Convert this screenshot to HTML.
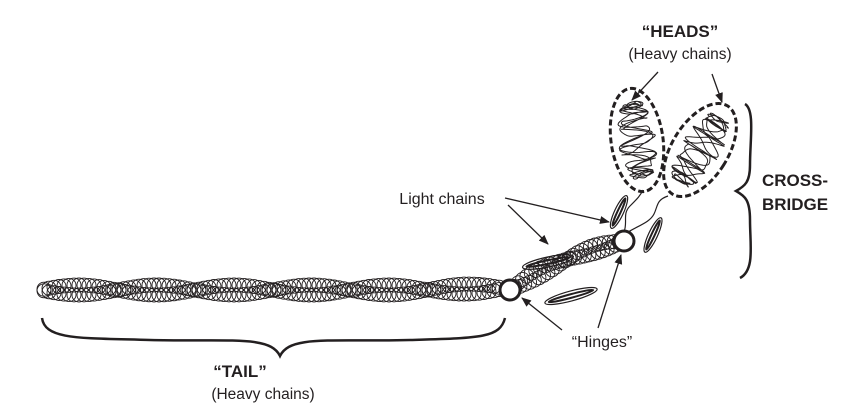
<!DOCTYPE html>
<html><head><meta charset="utf-8"><style>
html,body{margin:0;padding:0;background:#fff;width:852px;height:409px;overflow:hidden}
svg{display:block}
text{font-family:"Liberation Sans",Arial,sans-serif;fill:#231f20}
</style></head><body>
<svg id="s" width="852" height="409" viewBox="0 0 852 409" xmlns="http://www.w3.org/2000/svg">
<defs><marker id="a" markerWidth="10" markerHeight="8" refX="9" refY="4" orient="auto" markerUnits="userSpaceOnUse"><path d="M0,0 L10,4 L0,8 z" fill="#231f20"/></marker></defs>
<g id="coils" fill="none" stroke="#231f20" stroke-width="0.9"></g>
<g fill="none" stroke="#231f20" stroke-width="1.2">
<g transform="translate(548,262) rotate(-12)"><ellipse rx="26" ry="5"/><ellipse rx="22" ry="1.8" stroke-width="2"/></g>
<g transform="translate(571,296) rotate(-15)"><ellipse rx="27" ry="5"/><ellipse rx="23" ry="1.8" stroke-width="2"/></g>
<g transform="translate(619,212) rotate(-65)"><ellipse rx="18" ry="4.5"/><ellipse rx="15" ry="1.6" stroke-width="2"/></g>
<g transform="translate(653,235) rotate(-65)"><ellipse rx="19" ry="4.5"/><ellipse rx="16" ry="1.6" stroke-width="2"/></g>
<path d="M624,232 C628,222 622,214 630,206 C638,198 640,196 643,190"/>
<path d="M628,232 C640,225 650,222 654,214 C658,206 656,200 668,196"/>
</g>
<g id="heads" fill="none" stroke="#231f20" stroke-width="1"></g>
<g fill="none" stroke="#231f20" stroke-width="3" stroke-dasharray="6,3">
<ellipse cx="637" cy="140" rx="26" ry="52" transform="rotate(-8 637 140)"/>
<ellipse cx="700" cy="150" rx="28" ry="52" transform="rotate(32 700 150)"/>
</g>
<circle cx="510" cy="290" r="10" fill="#fff" stroke="#231f20" stroke-width="3"/>
<circle cx="624" cy="241" r="10" fill="#fff" stroke="#231f20" stroke-width="3"/>
<path d="M42,318 C45,340 80,338 150,340 C230,342 270,335 280,356 C290,335 330,342 410,340 C480,338 500,338 505,318" fill="none" stroke="#231f20" stroke-width="2.5"/>
<path d="M745,104 C755,110 750,140 750,165 C750,182 745,186 736,191 C745,196 750,200 750,220 C750,245 755,270 740,278" fill="none" stroke="#231f20" stroke-width="2.5"/>
<g stroke="#231f20" stroke-width="1.3" marker-end="url(#a)">
<line x1="658" y1="72" x2="632" y2="100"/>
<line x1="712" y1="74" x2="722" y2="102"/>
<line x1="505" y1="198" x2="609" y2="222"/>
<line x1="508" y1="205" x2="548" y2="244"/>
<line x1="562" y1="330" x2="522" y2="298"/>
<line x1="598" y1="328" x2="621" y2="255"/>
</g>
<text x="680" y="37" font-size="17" font-weight="bold" text-anchor="middle">“HEADS”</text>
<text x="680" y="59" font-size="15.5" text-anchor="middle">(Heavy chains)</text>
<text x="795" y="186" font-size="17" font-weight="bold" text-anchor="middle">CROSS-</text>
<text x="795" y="210" font-size="17" font-weight="bold" text-anchor="middle">BRIDGE</text>
<text x="442" y="204" font-size="16" text-anchor="middle">Light chains</text>
<text x="602" y="347" font-size="16" text-anchor="middle">“Hinges”</text>
<text x="240" y="377" font-size="17" font-weight="bold" text-anchor="middle">“TAIL”</text>
<text x="263" y="399" font-size="15.5" text-anchor="middle">(Heavy chains)</text>
</svg>
<script>
var h='';
function c(x,y,r){h+='<circle cx="'+x.toFixed(1)+'" cy="'+y.toFixed(1)+'" r="'+r+'"/>';}
for(var s=0;s<2;s++){for(var x=44;x<=503;x+=5){var ph=(x-40)/155*Math.PI*2+s*Math.PI;c(x,290+Math.sin(ph)*5-(x>420?(x-420)*0.02:0),7);}}
for(var s=0;s<2;s++){for(var t=0;t<=1;t+=0.04){var x=510+t*114,y=290-t*49-Math.sin(t*Math.PI)*6;var ph=t*Math.PI*2+s*Math.PI;c(x+0.39*Math.sin(ph)*4,y+0.92*Math.sin(ph)*4,7);}}
document.getElementById('coils').innerHTML=h;
function squig(cx,cy,rx,ry,ang,k){var a=ang*Math.PI/180,p='';for(var i=0;i<=600;i++){var t=i/600*Math.PI*4;var ny=-Math.cos(t)*0.82+0.06*Math.sin(13*t+k);var w=Math.sqrt(Math.max(0,1-ny*ny));var nx=w*(0.8*Math.sin(9.3*t+k)+0.15*Math.sin(23*t));var X=cx+(nx*rx*Math.cos(a)-ny*ry*Math.sin(a)),Y=cy+(nx*rx*Math.sin(a)+ny*ry*Math.cos(a));p+=(i?' L':'M')+X.toFixed(1)+','+Y.toFixed(1);}return '<path d="'+p+'" stroke-linejoin="round"/>';}
var hh=squig(637,140,20,44,-8,0)+squig(700,150,21,44,32,1.3);
document.getElementById('heads').innerHTML=hh;
</script>
</body></html>
